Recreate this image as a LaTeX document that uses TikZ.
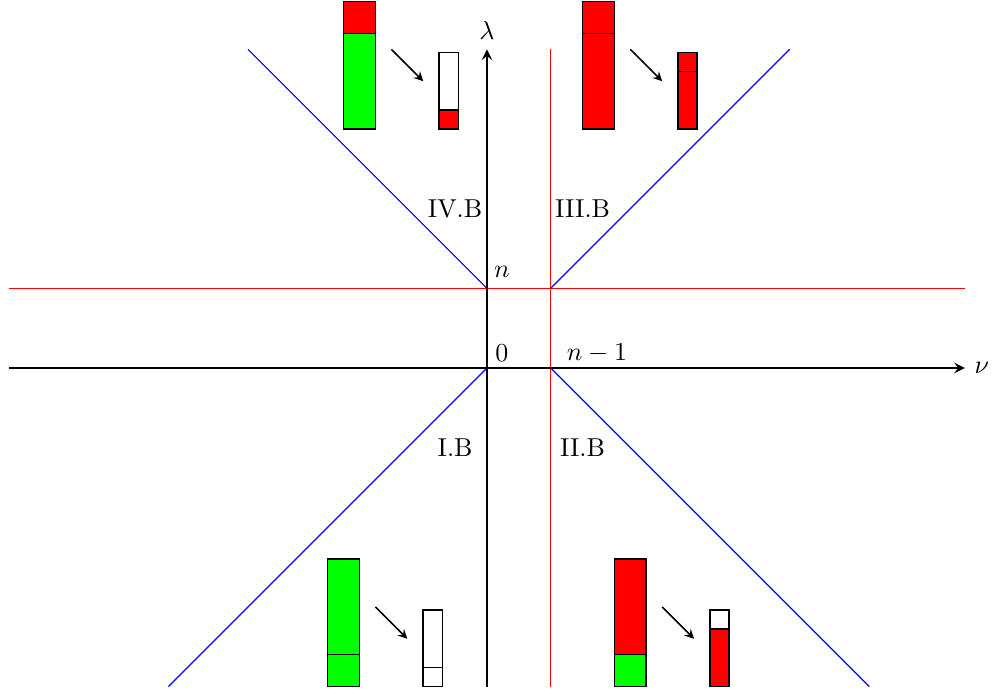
\documentclass[tikz,border=0pt]{standalone}
\usetikzlibrary{arrows}
\definecolor{grn}{RGB}{0,255,0}
\definecolor{rd}{RGB}{255,0,0}
\tikzset{
  axis/.style={thick,-stealth},
  bline/.style={blue,line width=0.45pt},
  rline/.style={rd,line width=0.45pt},
  seg/.style={draw=black,line width=0.6pt},
  mv/.style={-stealth,line width=0.6pt},
  lbl/.style={inner sep=0pt}
}
\begin{document}
\begin{tikzpicture}[x=0.216cm,y=0.216cm]
\useasboundingbox (-30.57,-20.28) rectangle (31.83,23.1);
% guide lines
\draw[rline] (-30,5) -- (30,5);
\draw[rline] (4,-20) -- (4,20);
\draw[bline] (0,5) -- (-15,20);
\draw[bline] (4,5) -- (19,20);
\draw[bline] (0,0) -- (-20,-20);
\draw[bline] (4,0) -- (24,-20);
% axes
\coordinate (xl) at (-30,0);
\coordinate (xr) at (30,0);
\coordinate (yb) at (0,-20);
\coordinate (yt) at (0,20);
\draw[axis] (xl) -- (xr) node[right] (nu) {$\nu$};
\draw[axis] (yb) -- (yt) node[above] (lam) {$\lambda$};
% labels
\node[lbl] (l0) at (0.94,0.94) {$0$};
\node[lbl] (ln) at (0.94,6.0) {$n$};
\node[lbl] (ln1) at (6.9,0.94) {$n-1$};
\node (r4) at (-2,10) {IV.B};
\node (r3) at (6,10) {III.B};
\node (r1) at (-2,-5) {I.B};
\node (r2) at (6,-5) {II.B};
% upper left
\filldraw[seg,fill=grn] (-9,15) rectangle (-7,21);
\filldraw[seg,fill=rd] (-9,21) rectangle (-7,23);
\filldraw[seg,fill=rd] (-3,15) rectangle (-1.8,16.2);
\filldraw[seg,fill=white] (-3,16.2) rectangle (-1.8,19.8);
\coordinate (a1) at (-6,20); \coordinate (b1) at (-4,18);
\draw[mv] (a1) -- (b1);
% upper right
\filldraw[seg,fill=rd] (6,15) rectangle (8,21);
\filldraw[seg,fill=rd] (6,21) rectangle (8,23);
\filldraw[seg,fill=rd] (12,15) rectangle (13.2,18.6);
\filldraw[seg,fill=rd] (12,18.6) rectangle (13.2,19.8);
\coordinate (a2) at (9,20); \coordinate (b2) at (11,18);
\draw[mv] (a2) -- (b2);
% lower left
\filldraw[seg,fill=grn] (-10,-20) rectangle (-8,-18);
\filldraw[seg,fill=grn] (-10,-18) rectangle (-8,-12);
\filldraw[seg,fill=white] (-4,-20) rectangle (-2.8,-18.8);
\filldraw[seg,fill=white] (-4,-18.8) rectangle (-2.8,-15.2);
\coordinate (a3) at (-7,-15); \coordinate (b3) at (-5,-17);
\draw[mv] (a3) -- (b3);
% lower right
\filldraw[seg,fill=grn] (8,-20) rectangle (10,-18);
\filldraw[seg,fill=rd] (8,-18) rectangle (10,-12);
\filldraw[seg,fill=rd] (14,-20) rectangle (15.2,-16.4);
\filldraw[seg,fill=white] (14,-16.4) rectangle (15.2,-15.2);
\coordinate (a4) at (11,-15); \coordinate (b4) at (13,-17);
\draw[mv] (a4) -- (b4);
\end{tikzpicture}
\end{document}
